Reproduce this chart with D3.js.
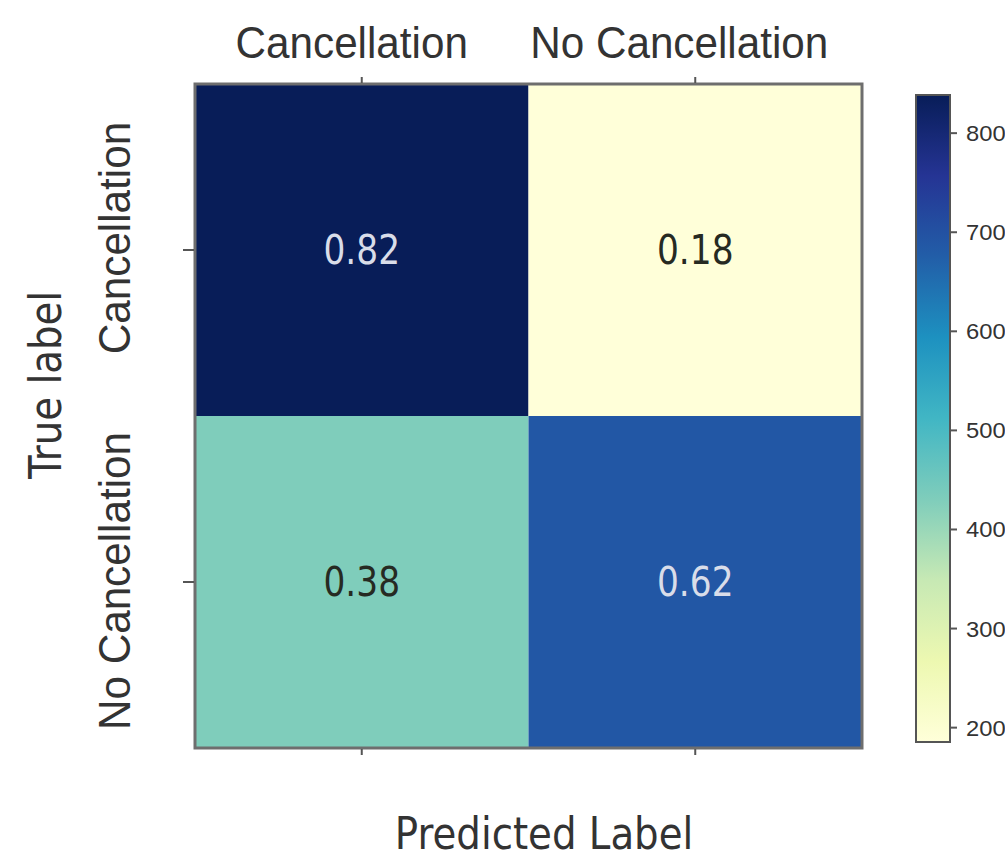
<!DOCTYPE html>
<html>
<head>
<meta charset="utf-8">
<script src="https://cdn.jsdelivr.net/npm/d3@7"></script>
<style>
  body { margin: 0; background: #fff; }
  svg { display: block; font-family: "DejaVu Sans", sans-serif; }
</style>
</head>
<body>
<div id="chart"></div>
<script>
// confusion matrix data (counts drive the colour, ratios are printed)
const classLabels = ["Cancellation", "No Cancellation"];
const counts = [
    [838, 185],
    [430, 688]
];
const ratios = [
    [0.82, 0.18],
    [0.38, 0.62]
];
const colorbarTicks = [200, 300, 400, 500, 600, 700, 800];

const W = 1005, H = 859;
// horizontal glyph squeeze, tuned per kind of text
const sqTick = 0.96, sqTitle = 0.88, sqCell = 0.86, sqBar = 1.08;

const svg = d3.select("#chart").append("svg")
    .attr("width", W)
    .attr("height", H);

const x = d3.scaleBand().domain(classLabels).range([195, 862]);
const y = d3.scaleBand().domain(classLabels).range([84, 748]);

const vmin = d3.min(counts.flat()), vmax = d3.max(counts.flat());

// YlGnBu as a linear segmented map (like matplotlib)
const palette = d3.schemeYlGnBu[9];
const color = d3.scaleLinear()
    .domain(palette.map((_, i) => vmin + (vmax - vmin) * i / (palette.length - 1)))
    .range(palette)
    .interpolate(d3.interpolateRgb);

const cells = [];
counts.forEach((row, i) => row.forEach((v, j) => {
    cells.push({ t: classLabels[i], p: classLabels[j], v: v, r: ratios[i][j] });
}));

svg.append("g").selectAll("rect")
    .data(cells)
    .join("rect")
    .attr("x", d => x(d.p))
    .attr("y", d => y(d.t))
    .attr("width", x.bandwidth())
    .attr("height", y.bandwidth())
    .attr("fill", d => color(d.v));

const thresh = (vmin + vmax) / 2;
svg.append("g").selectAll("text")
    .data(cells)
    .join("text")
    .attr("transform", d => `translate(${x(d.p) + x.bandwidth() / 2},${y(d.t) + y.bandwidth() / 2 + 14}) scale(${sqCell},1)`)
    .attr("text-anchor", "middle")
    .style("font-size", "40px")
    .attr("fill", d => d.v > thresh ? "#d9dde9" : "#262a22")
    .text(d => d.r.toFixed(2));

// frame
svg.append("rect")
    .attr("x", 195).attr("y", 84)
    .attr("width", 667).attr("height", 664)
    .attr("fill", "none")
    .attr("stroke", "#6e6e6e")
    .attr("stroke-width", 3);

// axes
const styleAxis = g => {
    g.select(".domain").remove();
    g.selectAll(".tick line").attr("stroke", "#555").attr("stroke-width", 2);
};

svg.append("g")
    .attr("transform", "translate(0,83)")
    .call(d3.axisTop(x).tickSize(6).tickPadding(0))
    .call(styleAxis)
    .selectAll("text")
    .attr("y", null).attr("dy", null)
    .attr("transform", (d, i) => `translate(${i === 0 ? -10 : -16},-25) scale(${sqTick},1)`)
    .attr("fill", "#333")
    .style("font-size", "44px");

svg.append("g")
    .attr("transform", "translate(0,749)")
    .call(d3.axisBottom(x).tickSize(6).tickFormat(""))
    .call(styleAxis);

svg.append("g")
    .attr("transform", "translate(194,0)")
    .call(d3.axisLeft(y).tickSize(11))
    .call(styleAxis)
    .selectAll("text")
    .attr("x", null).attr("dy", null)
    .attr("text-anchor", "middle")
    .attr("transform", (d, i) => `translate(-64,${i === 0 ? -12 : -1}) rotate(-90) scale(${sqTick},1)`)
    .attr("fill", "#333")
    .style("font-size", "44px");

// axis titles
svg.append("text")
    .attr("transform", `translate(544,849) scale(${sqTitle},1)`)
    .attr("text-anchor", "middle")
    .attr("fill", "#333")
    .style("font-size", "44px")
    .text("Predicted Label");

svg.append("text")
    .attr("transform", `translate(61,385) rotate(-90) scale(${sqTitle},1)`)
    .attr("text-anchor", "middle")
    .attr("fill", "#333")
    .style("font-size", "44px")
    .text("True label");

// colorbar
const cb = { x: 916, y: 95, w: 34, h: 647 };
const cy = d3.scaleLinear().domain([vmin, vmax]).range([cb.y + cb.h, cb.y]);

const grad = svg.append("defs").append("linearGradient")
    .attr("id", "cbgrad")
    .attr("x1", 0).attr("y1", 1).attr("x2", 0).attr("y2", 0);
grad.selectAll("stop")
    .data(palette)
    .join("stop")
    .attr("offset", (d, i) => i / (palette.length - 1))
    .attr("stop-color", d => d);

svg.append("rect")
    .attr("x", cb.x).attr("y", cb.y)
    .attr("width", cb.w).attr("height", cb.h)
    .attr("fill", "url(#cbgrad)")
    .attr("stroke", "#555")
    .attr("stroke-width", 2);

svg.append("g")
    .attr("transform", `translate(${cb.x + cb.w},0)`)
    .call(d3.axisRight(cy).tickValues(colorbarTicks).tickSize(7).tickPadding(0))
    .call(styleAxis)
    .selectAll("text")
    .attr("x", null).attr("dy", null)
    .attr("text-anchor", "start")
    .attr("transform", `translate(16,8) scale(${sqBar},1)`)
    .attr("fill", "#333")
    .style("font-size", "22px");
</script>
</body>
</html>
